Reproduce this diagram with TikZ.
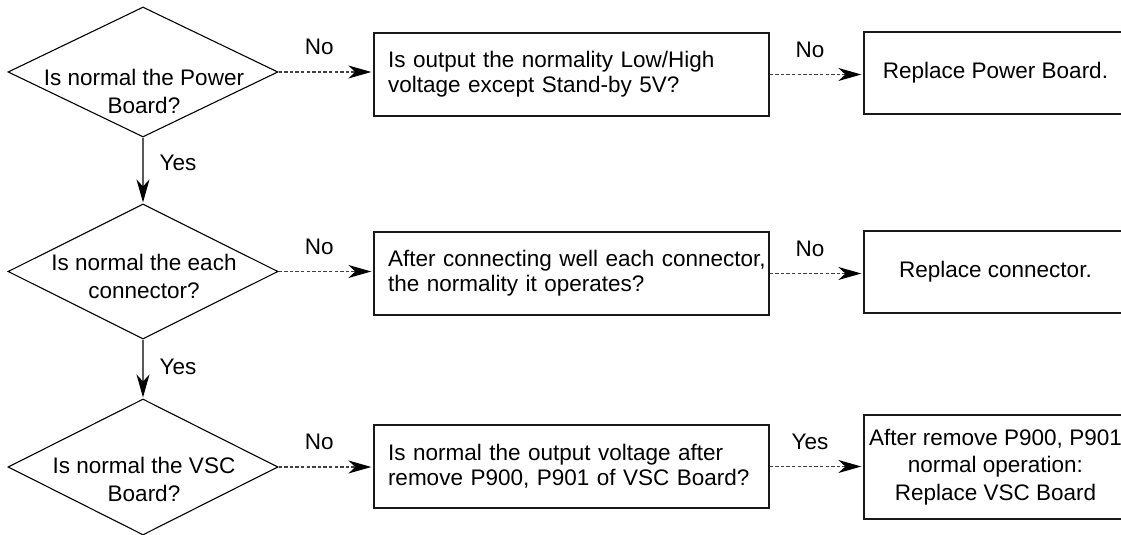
\documentclass[tikz,border=0pt]{standalone}
\usepackage{fontspec}
\setmainfont{Liberation Sans}
\usetikzlibrary{arrows.meta,shapes.geometric}
\begin{document}
\begin{tikzpicture}[x=0.5pt,y=-0.5pt,
  font=\fontsize{11.25pt}{12.5pt}\selectfont,
  dia/.style={diamond, draw=black, line width=0.55pt, inner sep=0pt, minimum width=135pt},
  dtext/.style={align=center, inner sep=0pt, font=\fontsize{11.25pt}{14pt}\selectfont},
  qbox/.style={draw=black!90, line width=0.65pt, minimum height=41.5pt, text width=183.5pt, align=left, inner xsep=7pt, inner ysep=0pt},
  rbox/.style={draw=black!90, line width=0.65pt, minimum width=131.5pt, align=center, inner xsep=2pt, inner ysep=0pt, font=\fontsize{11.25pt}{13.75pt}\selectfont},
  tip/.style={-{Stealth[black, length=11.5pt, width=6.5pt, inset=3.5pt]}},
  noarr/.style={draw=black!75, line width=0.6pt, dash pattern=on 1.7pt off 1.1pt, tip, shorten >=1pt},
  yesarr/.style={draw=black!65, line width=0.6pt, tip, shorten >=0.5pt},
  lbl/.style={inner sep=0pt}
]
\useasboundingbox (0,0) rectangle (1121,535);

% diamonds
\node[dia, minimum height=65pt] (d1) at (143,72) {};
\node[dia, minimum height=67.5pt] (d2) at (143,271.5) {};
\node[dia, minimum height=68pt] (d3) at (143,467) {};
\node[dtext] (t1) at (144,91) {Is normal the Power\\Board?};
\node[dtext] (t2) at (144,276.5) {Is normal the each\\connector?};
\node[dtext] (t3) at (144,479) {Is normal the VSC\\Board?};

% question boxes
\node[qbox] (b1) at (571.5,74.5) {Is output the normality Low/High\\voltage except Stand-by 5V?};
\node[qbox] (b2) at (571.5,273.5) {\mbox{After connecting well each connector,}\\the normality it operates?};
\node[qbox] (b3) at (571.5,466.5) {Is normal the output voltage after\\remove P900, P901 of VSC Board?};

% result boxes
\node[rbox, minimum height=41pt] (r1) at (995.5,73) {Replace Power Board.};
\node[rbox, minimum height=41pt] (r2) at (995.5,272) {Replace connector.};
\node[rbox, minimum height=52pt] (r3) at (995.5,467) {After remove P900, P901\\normal operation:\\Replace VSC Board};

% connectors
\draw[noarr] (d1.east) -- (d1.east -| b1.west) node[lbl, pos=0.43, yshift=12.5pt] (n1) {No};
\draw[noarr] (b1.east) -- (b1.east -| r1.west) node[lbl, pos=0.43, yshift=12.5pt] (n2) {No};
\draw[noarr] (d2.east) -- (d2.east -| b2.west) node[lbl, pos=0.43, yshift=12.5pt] (n3) {No};
\draw[noarr] (b2.east) -- (b2.east -| r2.west) node[lbl, pos=0.43, yshift=12.5pt] (n4) {No};
\draw[noarr] (d3.east) -- (d3.east -| b3.west) node[lbl, pos=0.43, yshift=12.5pt] (n5) {No};
\draw[noarr] (b3.east) -- (b3.east -| r3.west) node[lbl, pos=0.43, yshift=12.5pt] (n6) {Yes};

\draw[yesarr] (d1.south) -- (d2.north) node[lbl, pos=0.39, anchor=west, xshift=8pt] (y1) {Yes};
\draw[yesarr] (d2.south) -- (d3.north) node[lbl, pos=0.47, anchor=west, xshift=8pt] (y2) {Yes};
\end{tikzpicture}
\end{document}
